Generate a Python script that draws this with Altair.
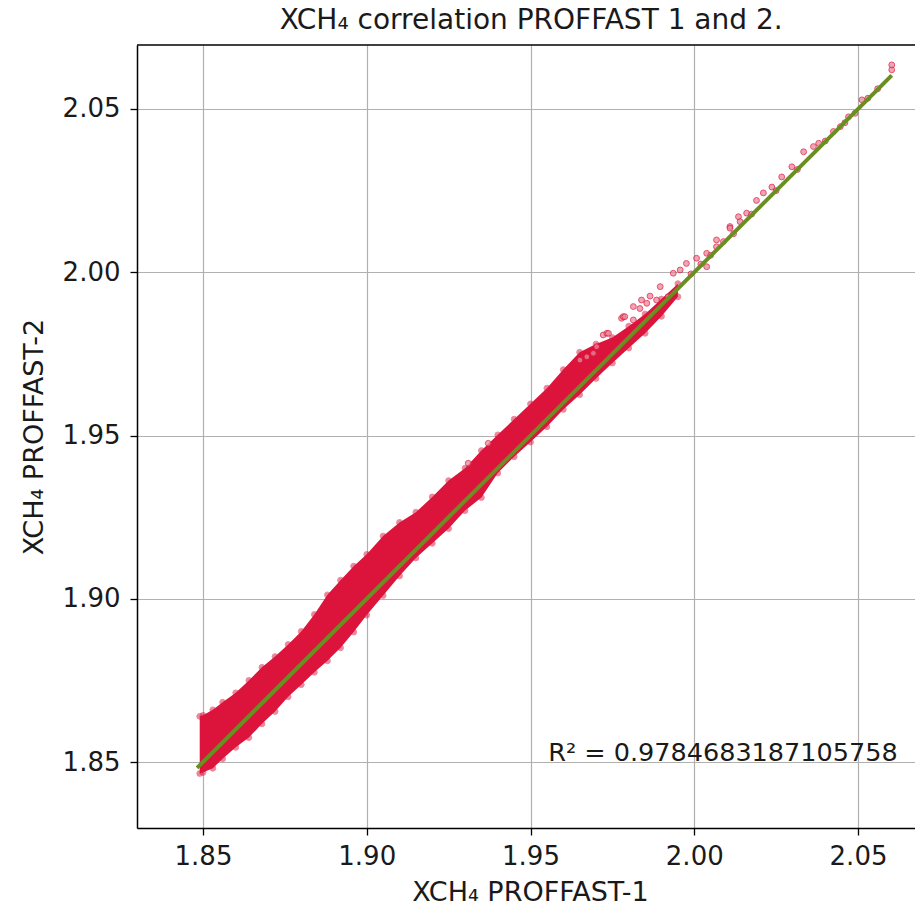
import altair as alt
import pandas as pd

# ---- data ----
# dense core of the scatter: upper / lower envelope of the point cloud
band_x = [1.849, 1.850, 1.853, 1.856, 1.860, 1.864, 1.868, 1.872, 1.876, 1.880,
          1.884, 1.888, 1.892, 1.896, 1.900, 1.905, 1.910, 1.915, 1.920, 1.925,
          1.930, 1.935, 1.940, 1.945, 1.950, 1.955, 1.960, 1.965, 1.970, 1.975,
          1.980, 1.985, 1.990, 1.995]
band_upper = [1.8640, 1.8643, 1.8660, 1.8683, 1.8712, 1.8750, 1.8790, 1.8823, 1.8860, 1.8900,
              1.8952, 1.9012, 1.9057, 1.9100, 1.9136, 1.9192, 1.9234, 1.9265, 1.9312, 1.9362,
              1.9400, 1.9454, 1.9502, 1.9550, 1.9597, 1.9645, 1.9702, 1.9755, 1.9780, 1.9800,
              1.9835, 1.9872, 1.9918, 1.9965]
band_lower = [1.8465, 1.8468, 1.8481, 1.8510, 1.8545, 1.8575, 1.8617, 1.8655, 1.8700, 1.8737,
              1.8775, 1.8810, 1.8850, 1.8898, 1.8950, 1.9010, 1.9070, 1.9125, 1.9170, 1.9215,
              1.9270, 1.9310, 1.9385, 1.9435, 1.9480, 1.9527, 1.9580, 1.9625, 1.9675, 1.9722,
              1.9768, 1.9813, 1.9865, 1.9925]

# sparse individual points (upper end of the cloud)
sparse_x = [1.9310, 1.9371, 1.9651, 1.9672, 1.9692, 1.9702, 1.9722, 1.9733, 1.9738, 1.9778,
            1.9783, 1.9788, 1.9814, 1.9814, 1.9834, 1.9839, 1.9855, 1.9865, 1.9885, 1.9896,
            1.9920, 1.9936, 1.9957, 1.9976, 1.9990, 2.0007, 2.0020, 2.0038, 2.0038, 2.0050,
            2.0068, 2.0068, 2.0089, 2.0109, 2.0109, 2.0120, 2.0135, 2.0140, 2.0160, 2.0175,
            2.0190, 2.0211, 2.0237, 2.0250, 2.0267, 2.0298, 2.0315, 2.0334, 2.0364, 2.0380,
            2.0400, 2.0425, 2.0446, 2.0460, 2.0471, 2.0491, 2.0512, 2.0530, 2.0560, 2.0603,
            2.0603]
sparse_y = [1.9415, 1.9476, 1.9731, 1.9741, 1.9752, 1.9772, 1.9808, 1.9813, 1.9813, 1.9859,
            1.9864, 1.9864, 1.9854, 1.9895, 1.9889, 1.9915, 1.9905, 1.9927, 1.9915, 1.9956,
            1.9925, 1.9997, 2.0007, 2.0027, 1.9995, 2.0043, 2.0025, 2.0017, 2.0058, 2.0052,
            2.0078, 2.0099, 2.0094, 2.0140, 2.0135, 2.0118, 2.0170, 2.0155, 2.0181, 2.0178,
            2.0220, 2.0243, 2.0261, 2.0250, 2.0292, 2.0323, 2.0315, 2.0369, 2.0385, 2.0395,
            2.0402, 2.0431, 2.0446, 2.0458, 2.0476, 2.0487, 2.0528, 2.0533, 2.0562, 2.0620,
            2.0635]

# fitted line end points
fit_x = [1.8482, 2.0603]
fit_y = [1.8482, 2.0603]

# annotation
r2_label = ["R² = 0.9784683187105758"]
r2_x = [1.9554]
r2_y = [1.8504]

ticks = [1.85, 1.90, 1.95, 2.00, 2.05]
x_dom = [1.82985, 2.0674]
y_dom = [1.8298, 2.0696]

title_text = ["XCH₄ correlation PROFFAST 1 and 2."]
title_x = [1.9502]
x_title = "XCH₄ PROFFAST-1"
y_title = "XCH₄ PROFFAST-2"

CRIMSON = "#dc143c"
GREEN = "#6b8e23"
FONT = "DejaVu Sans"

band_df = pd.DataFrame({"x": band_x, "upper": band_upper, "lower": band_lower})
edge_df = pd.DataFrame({"x": band_x + band_x, "y": band_upper + band_lower})
sparse_df = pd.DataFrame({"x": sparse_x, "y": sparse_y})
fit_df = pd.DataFrame({"x": fit_x, "y": fit_y})
r2_df = pd.DataFrame({"x": r2_x, "y": r2_y, "t": r2_label})
top_df = pd.DataFrame({"y": [y_dom[1]]})
title_df = pd.DataFrame({"x": title_x, "y": [y_dom[1]], "t": title_text})

xs = alt.Scale(domain=x_dom, nice=False, zero=False)
ys = alt.Scale(domain=y_dom, nice=False, zero=False)

axis_common = dict(
    values=ticks, format=".2f", labelFont=FONT, titleFont=FONT,
    labelFontSize=26, titleFontSize=27, titleFontWeight="normal",
    labelColor="#1a1a1a", titleColor="#1a1a1a",
    tickSize=7, tickColor="black", tickWidth=1.3,
    domainColor="black", domainWidth=1.5,
    gridColor="#b0b0b0", gridWidth=1.2, labelFlush=False,
)

x_axis = alt.Axis(title=x_title, labelPadding=8, titleX=393, titleY=72,
                  titleBaseline="alphabetic", titleAlign="center", **axis_common)
y_axis = alt.Axis(title=y_title, labelPadding=10, titleX=-95, titleY=391.5,
                  titleAngle=270, titleBaseline="alphabetic", titleAlign="center",
                  **axis_common)

band = alt.Chart(band_df).mark_area(color=CRIMSON, opacity=1).encode(
    x=alt.X("x:Q", scale=xs, axis=x_axis),
    y=alt.Y("upper:Q", scale=ys, axis=y_axis),
    y2="lower:Q",
)

edge_pts = alt.Chart(edge_df).mark_circle(
    size=34, color=CRIMSON, opacity=0.5, stroke=CRIMSON, strokeWidth=1
).encode(x=alt.X("x:Q", scale=xs), y=alt.Y("y:Q", scale=ys))

sparse_pts = alt.Chart(sparse_df).mark_circle(
    size=34, color="#e8899b", opacity=0.75, stroke=CRIMSON, strokeWidth=1
).encode(x=alt.X("x:Q", scale=xs), y=alt.Y("y:Q", scale=ys))

fit_line = alt.Chart(fit_df).mark_line(color=GREEN, strokeWidth=4).encode(
    x=alt.X("x:Q", scale=xs), y=alt.Y("y:Q", scale=ys)
)

r2 = alt.Chart(r2_df).mark_text(
    align="left", baseline="alphabetic", fontSize=25.5, font=FONT, color="#1a1a1a"
).encode(x=alt.X("x:Q", scale=xs), y=alt.Y("y:Q", scale=ys), text="t:N")

top_spine = alt.Chart(top_df).mark_rule(color="black", strokeWidth=1.5).encode(
    y=alt.Y("y:Q", scale=ys)
)

title_mark = alt.Chart(title_df).mark_text(
    align="center", baseline="alphabetic", fontSize=28, font=FONT, color="#1a1a1a",
    dy=-16.5
).encode(x=alt.X("x:Q", scale=xs), y=alt.Y("y:Q", scale=ys), text="t:N")

chart = alt.layer(band, edge_pts, sparse_pts, fit_line, r2, top_spine, title_mark).properties(
    width=778,
    height=783,
    autosize=alt.AutoSizeParams(type="none"),
    padding={"left": 129, "top": 37, "right": 0, "bottom": 80},
).configure_view(stroke=None)

chart.save("out.html", embed_options={"renderer": "svg", "actions": False})
